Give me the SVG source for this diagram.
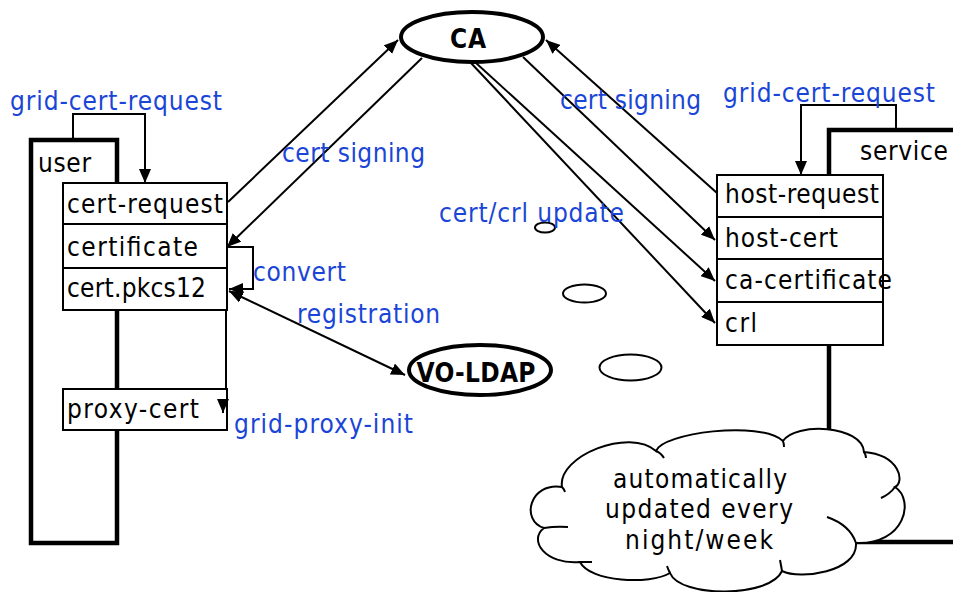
<svg xmlns="http://www.w3.org/2000/svg" width="953" height="592" viewBox="0 0 953 592">
<defs>
<marker id="ah" markerUnits="userSpaceOnUse" markerWidth="14" markerHeight="12" refX="14" refY="6" orient="auto-start-reverse" viewBox="0 0 14 12">
<path d="M0,0 L14,6 L0,12 z" fill="#000"/>
</marker>
<style>
.t{font-family:"DejaVu Sans Condensed","DejaVu Sans",sans-serif;font-stretch:condensed;font-size:26px;fill:#000}
.b{fill:#1a45d6}
.bold{font-family:"DejaVu Sans Condensed","DejaVu Sans",sans-serif;font-stretch:condensed;font-size:26px;font-weight:bold;fill:#000}
.cell{fill:#fff;stroke:#000;stroke-width:2}
.thick{fill:none;stroke:#000;stroke-width:4.5}
.ln{fill:none;stroke:#000;stroke-width:2}
.arr{fill:none;stroke:#000;stroke-width:2;marker-end:url(#ah)}
.bub{fill:#fff;stroke:#000;stroke-width:2}
</style>
</defs>
<rect width="953" height="592" fill="#fff"/>

<g id="user">
<rect class="thick" x="31" y="140" width="86" height="403"/>
<text class="t" x="38" y="172" textLength="53">user</text>
</g>

<g id="service">
<rect class="thick" x="829" y="130" width="140" height="412"/>
<text class="t" x="860" y="160" textLength="88">service</text>
</g>

<g id="user-store">
<rect class="cell" x="63" y="183" width="164" height="41"/>
<rect class="cell" x="63" y="224" width="164" height="44"/>
<rect class="cell" x="63" y="268" width="164" height="42"/>
<text class="t" x="67" y="213" textLength="156">cert-request</text>
<text class="t" x="67" y="256" textLength="131">certificate</text>
<text class="t" x="67" y="297" textLength="139">cert.pkcs12</text>
</g>

<g id="proxy">
<rect class="cell" x="63" y="389" width="164" height="41"/>
<text class="t" x="67" y="418" textLength="132">proxy-cert</text>
</g>

<g id="host-store">
<rect class="cell" x="717" y="175" width="166" height="42"/>
<rect class="cell" x="717" y="217" width="166" height="42"/>
<rect class="cell" x="717" y="259" width="166" height="43"/>
<rect class="cell" x="717" y="302" width="166" height="43"/>
<text class="t" x="725" y="203" textLength="154">host-request</text>
<text class="t" x="725" y="247" textLength="113">host-cert</text>
<text class="t" x="725" y="289" textLength="167">ca-certificate</text>
<text class="t" x="725" y="332" textLength="32">crl</text>
</g>

<g id="CA">
<ellipse cx="472" cy="37" rx="71" ry="25" fill="#fff" stroke="#000" stroke-width="4"/>
<text class="bold" x="468" y="48" text-anchor="middle" textLength="36">CA</text>
</g>

<g id="VO-LDAP">
<ellipse cx="480" cy="370" rx="71" ry="25" fill="#fff" stroke="#000" stroke-width="4"/>
<text class="bold" x="476" y="382" text-anchor="middle" textLength="119">VO-LDAP</text>
</g>

<g id="bubbles">
<ellipse class="bub" cx="545" cy="227.5" rx="10" ry="5"/>
<ellipse class="bub" cx="584.5" cy="293.5" rx="21.5" ry="9"/>
<ellipse class="bub" cx="630.5" cy="367.5" rx="31" ry="13"/>
</g>

<g id="cloud">
<path d="M562,487 C557,456 630,427 656,451 C662,433 760,420 783,441 C795,422 862,425 864,452 C900,455 905,482 895,487 C915,500 905,545 856,543 C858,572 800,580 782,571 C770,598 680,598 670,573 C650,585 590,582 580,562 C545,565 528,540 544,528 C520,520 530,482 562,487 Z" fill="#fff" stroke="#000" stroke-width="2"/>
<path class="ln" d="M562,487 Q564,489 565,492 M656,451 Q661,453 664,458 M783,441 Q784,444 784,447 M864,452 Q866,455 866,458 M895,487 Q890,494 881,498 M827,517 Q850,525 856,543 M782,571 Q781,565 780,560 M670,573 Q668,569 667,566 M578,562 L592,562 M544,528 Q556,526 568,527"/>
<text class="t" x="700" y="488" text-anchor="middle" textLength="174">automatically</text>
<text class="t" x="699" y="518" text-anchor="middle" textLength="188">updated every</text>
<text class="t" x="699" y="549" text-anchor="middle" textLength="148">night/week</text>
</g>

<g id="connectors">
<path class="arr" d="M73,140 V114 H145 V183"/>
<path class="arr" d="M896,130 V105 H801 V175"/>
<path class="arr" d="M228,202 L398,40"/>
<path class="arr" d="M422,58 L227,247"/>
<path class="arr" d="M717,193 L546,40"/>
<path class="arr" d="M523,57 L715,240"/>
<path class="arr" d="M476,63 L715,281"/>
<path class="arr" d="M471,63 L715,323"/>
<path class="arr" d="M227,247 H253 V289 H229"/>
<path class="arr" d="M229,291 L405,375" marker-start="url(#ah)"/>
<path class="ln" d="M226,310 V389"/>
<path class="arr" d="M223,399 V413"/>
</g>

<g id="labels">
<text class="t b" x="10" y="110" textLength="212">grid-cert-request</text>
<text class="t b" x="723" y="102" textLength="212">grid-cert-request</text>
<text class="t b" x="282" y="162" textLength="143">cert signing</text>
<text class="t b" x="560" y="109" textLength="141">cert signing</text>
<text class="t b" x="439" y="222" textLength="185">cert/crl update</text>
<text class="t b" x="253" y="281" textLength="93">convert</text>
<text class="t b" x="297" y="323" textLength="143">registration</text>
<text class="t b" x="234" y="433" textLength="179">grid-proxy-init</text>
</g>
</svg>
